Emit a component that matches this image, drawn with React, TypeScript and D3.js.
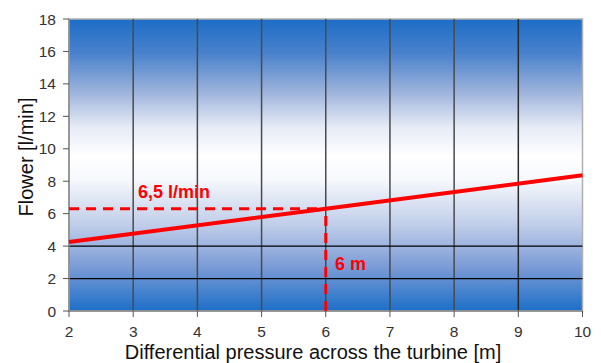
import React from "react";
import * as d3 from "d3";

const xTicks = [2, 3, 4, 5, 6, 7, 8, 9, 10];
const yTicks = [0, 2, 4, 6, 8, 10, 12, 14, 16, 18];
const hGrid = [2, 4];
const lineX = [2, 6, 10];
const lineY = [4.25, 6.3, 8.37];
const markX = 6;
const markY = 6.3;
const markFlowLabel = "6,5 l/min";
const markPressLabel = "6 m";

export default function App() {
  const W = 601, H = 363;
  const x = d3.scaleLinear().domain([2, 10]).range([69, 582.5]);
  const y = d3.scaleLinear().domain([0, 18]).range([311, 19]);
  const pts = lineX.map((v, i) => [x(v), y(lineY[i])] as [number, number]);
  const line = d3.line();
  const font = "Arial, 'Liberation Sans', sans-serif";
  return (
    <svg width={W} height={H} style={{ position: "absolute", left: 0, top: 0 }}>
      <defs>
        <linearGradient id="bg" x1="0" y1="0" x2="0" y2="1">
          <stop offset="0%" stopColor="#1c6dc6" />
          <stop offset="12%" stopColor="#4a82cc" />
          <stop offset="25%" stopColor="#9db3dc" />
          <stop offset="37%" stopColor="#e6ebf6" />
          <stop offset="47%" stopColor="#ffffff" />
          <stop offset="55%" stopColor="#f6f8fc" />
          <stop offset="70%" stopColor="#c2cfea" />
          <stop offset="85%" stopColor="#7a9bd6" />
          <stop offset="100%" stopColor="#1d6fc8" />
        </linearGradient>
      </defs>
      <rect x={x(2)} y={y(18)} width={x(10) - x(2)} height={y(0) - y(18)} fill="url(#bg)" stroke="#b0b0b0" strokeWidth={1.5} />
      {xTicks.slice(1, -1).map((t) => (
        <line key={t} x1={x(t)} x2={x(t)} y1={y(18)} y2={y(0)} stroke={t === 9 ? "#2a2a2a" : "#4a4a4a"} strokeWidth={1.5} />
      ))}
      {hGrid.map((t) => (
        <line key={t} x1={x(2)} x2={x(10)} y1={y(t)} y2={y(t)} stroke="#000" strokeWidth={1.2} />
      ))}
      <line x1={x(2)} x2={x(2)} y1={y(18)} y2={y(0)} stroke="#8a8a8a" strokeWidth={1.5} />
      <line x1={x(2)} x2={x(10)} y1={y(0)} y2={y(0)} stroke="#8a8a8a" strokeWidth={1.5} />
      {yTicks.map((t) => (
        <g key={t}>
          <line x1={x(2) - 6} x2={x(2)} y1={y(t)} y2={y(t)} stroke="#555" strokeWidth={1} />
          <text x={56} y={y(t)} dy="0.36em" textAnchor="end" fontFamily={font} fontSize={15.5} fill="#333">{t}</text>
        </g>
      ))}
      {xTicks.map((t) => (
        <g key={t}>
          <line x1={x(t)} x2={x(t)} y1={y(0)} y2={y(0) + 6} stroke="#555" strokeWidth={1} />
          <text x={x(t)} y={337} textAnchor="middle" fontFamily={font} fontSize={15.5} fill="#333">{t}</text>
        </g>
      ))}
      <path d={line(pts) || ""} fill="none" stroke="#ff0000" strokeWidth={4} />
      <line x1={x(2)} x2={x(markX)} y1={y(markY)} y2={y(markY)} stroke="#ff0000" strokeWidth={3} strokeDasharray="10,7" />
      <line x1={x(markX)} x2={x(markX)} y1={y(0)} y2={y(markY)} stroke="#ff0000" strokeWidth={3} strokeDasharray="10,7" />
      <text x={138} y={198} fontFamily={font} fontSize={18} fontWeight="bold" fill="#ff0000">{markFlowLabel}</text>
      <text x={335} y={270} fontFamily={font} fontSize={18} fontWeight="bold" fill="#ff0000">{markPressLabel}</text>
      <text x={313} y={359} textAnchor="middle" fontFamily={font} fontSize={20} fill="#111">Differential pressure across the turbine [m]</text>
      <text transform="translate(33,157) rotate(-90)" textAnchor="middle" fontFamily={font} fontSize={20} fill="#111">Flower [l/min]</text>
    </svg>
  );
}
